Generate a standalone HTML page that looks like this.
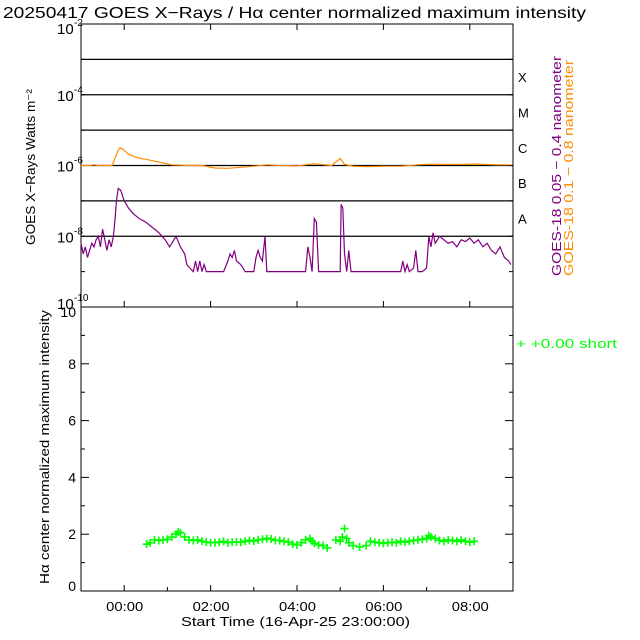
<!DOCTYPE html>
<html><head><meta charset="utf-8"><style>
body{margin:0;background:#fff;}
svg{display:block;font-family:"Liberation Sans",sans-serif;}
</style></head><body>
<svg id="chart" width="640" height="640" viewBox="0 0 640 640">
<rect width="640" height="640" fill="#fff"/>
<text x="3" y="18" font-size="16" textLength="583" lengthAdjust="spacingAndGlyphs">20250417 GOES X−Rays / Hα center normalized maximum intensity</text>
<g id="topPanel"></g>
<g id="botPanel"></g>
</svg>
<script>
const xrayLongT=[-1.0,-0.9,-0.8,-0.7,-0.6,-0.5,-0.4,-0.28,-0.15,-0.1,-0.05,0.1,0.3,0.6,0.9,1.1,1.5,1.8,2.1,2.4,2.7,3.0,3.3,3.6,4.0,4.4,4.8,5.0,5.1,5.3,5.6,6.0,6.4,6.8,7.1,7.4,7.8,8.2,8.6,8.95];
const xrayLongV=[-6.0,-6.0,-6.0,-5.98,-6.0,-5.99,-6.0,-6.0,-5.6,-5.5,-5.52,-5.68,-5.78,-5.85,-5.93,-5.98,-6.0,-6.0,-6.07,-6.08,-6.05,-6.02,-5.98,-6.0,-6.01,-5.95,-6.0,-5.8,-5.97,-6.02,-6.03,-6.02,-6.02,-5.98,-5.96,-5.97,-5.97,-5.96,-5.98,-5.98];
const xrayShortT=[-1.0,-0.95,-0.9,-0.85,-0.8,-0.75,-0.7,-0.65,-0.6,-0.55,-0.5,-0.45,-0.4,-0.35,-0.3,-0.25,-0.21,-0.18,-0.14,-0.08,0.0,0.1,0.2,0.35,0.5,0.65,0.8,0.95,1.05,1.2,1.3,1.4,1.45,1.6,1.65,1.7,1.75,1.8,1.85,1.9,2.0,2.3,2.4,2.45,2.5,2.55,2.6,2.7,2.8,3.0,3.05,3.1,3.15,3.2,3.26,3.3,3.5,4.2,4.25,4.3,4.35,4.4,4.45,4.5,4.6,5.0,5.02,5.06,5.1,5.15,5.2,5.25,5.3,6.0,6.4,6.45,6.5,6.55,6.6,6.7,6.75,6.8,6.9,7.0,7.05,7.1,7.15,7.2,7.3,7.4,7.5,7.6,7.7,7.8,7.9,8.0,8.1,8.2,8.3,8.4,8.5,8.6,8.7,8.8,8.9,8.95];
const xrayShortV=[-8.2,-8.5,-8.3,-8.6,-8.4,-8.2,-8.3,-8.1,-8.0,-8.3,-7.8,-8.1,-8.4,-8.1,-8.3,-8.0,-7.5,-7.0,-6.65,-6.7,-7.0,-7.2,-7.35,-7.5,-7.6,-7.75,-7.9,-8.1,-8.3,-8.0,-8.3,-8.5,-8.8,-9.0,-8.7,-9.0,-8.7,-9.0,-8.8,-9.0,-9.0,-9.0,-8.7,-8.5,-8.6,-8.4,-8.7,-8.8,-9.0,-9.0,-8.6,-8.4,-8.6,-8.7,-8.0,-9.0,-9.0,-9.0,-8.3,-8.6,-9.0,-7.5,-7.6,-9.0,-9.0,-9.0,-7.1,-7.2,-8.5,-9.0,-8.4,-9.0,-9.0,-9.0,-9.0,-8.7,-9.0,-8.8,-9.0,-8.9,-8.4,-9.0,-9.0,-8.9,-8.0,-8.3,-7.9,-8.2,-8.0,-8.1,-8.2,-8.15,-8.3,-8.1,-8.15,-8.05,-8.2,-8.1,-8.3,-8.2,-8.4,-8.5,-8.3,-8.6,-8.7,-8.8,-9.0];
const haT=[0.52,0.6,0.7,0.8,0.9,1.0,1.1,1.2,1.25,1.3,1.4,1.5,1.6,1.7,1.8,1.9,2.0,2.1,2.2,2.3,2.4,2.5,2.6,2.7,2.8,2.9,3.0,3.1,3.2,3.3,3.4,3.5,3.6,3.7,3.8,3.9,4.0,4.1,4.2,4.3,4.35,4.4,4.5,4.6,4.7,4.9,5.0,5.05,5.1,5.15,5.2,5.3,5.45,5.6,5.7,5.8,5.9,6.0,6.1,6.2,6.3,6.4,6.5,6.6,6.7,6.8,6.9,7.0,7.05,7.1,7.2,7.3,7.4,7.5,7.6,7.7,7.8,7.9,8.0,8.1];
const haV=[1.65,1.7,1.8,1.78,1.8,1.82,1.9,2.0,2.08,2.05,1.9,1.8,1.78,1.8,1.75,1.72,1.7,1.7,1.72,1.75,1.7,1.72,1.73,1.72,1.75,1.78,1.76,1.8,1.82,1.85,1.83,1.78,1.78,1.75,1.72,1.65,1.62,1.7,1.8,1.85,1.75,1.68,1.62,1.6,1.52,1.8,1.75,1.9,2.2,1.85,1.7,1.6,1.55,1.6,1.75,1.72,1.7,1.68,1.7,1.72,1.7,1.75,1.72,1.75,1.78,1.8,1.82,1.85,1.95,1.9,1.85,1.78,1.75,1.8,1.78,1.75,1.8,1.75,1.72,1.75];
const xTickLabels=["00:00","02:00","04:00","06:00","08:00"];
const yTopExps=["-2","-4","-6","-8","-10"];
const yBotLabels=["0","2","4","6","8","10"];
const classLabels=["X","M","C","B","A"];

const NS="http://www.w3.org/2000/svg";
const L=81,R=513,T0=24,T1=307,B1=591;
const X=h=>L+(h+1)*(R-L)/10;
const YL=v=>T0+(-2-v)*(T1-T0)/8;
const YB=v=>B1-v*(B1-T1)/10;
function mk(p,tag,a){const e=document.createElementNS(NS,tag);for(const k in a)e.setAttribute(k,a[k]);p.appendChild(e);return e;}
const topG=document.getElementById('topPanel'),botG=document.getElementById('botPanel');

for(let d=-3;d>=-8;d--){const ln=mk(topG,'line',{x1:L,x2:R,y1:YL(d),y2:YL(d),stroke:'#000','stroke-width':1.3});

}
for(let i=0;i<classLabels.length;i++){const t=mk(topG,'text',{x:518,y:(YL(-3-i)+YL(-4-i))/2+5,'font-size':13});t.textContent=classLabels[i];

}
mk(topG,'rect',{x:L,y:T0,width:R-L,height:T1-T0,fill:'none',stroke:'#000'});
mk(botG,'rect',{x:L,y:T1,width:R-L,height:B1-T1,fill:'none',stroke:'#000'});
for(let h=0;h<=8;h++){const x=X(h);const big=h%2==0;
if(big){mk(topG,'line',{x1:x,x2:x,y1:T0,y2:T0+6,stroke:'#000'});
mk(topG,'line',{x1:x,x2:x,y1:T1,y2:T1-6,stroke:'#000'});}
mk(botG,'line',{x1:x,x2:x,y1:B1,y2:B1-(big?6:4),stroke:'#000'});}
for(let i=0;i<xTickLabels.length;i++){const t=mk(botG,'text',{x:X(i*2)-18,y:611,'font-size':13,textLength:37,lengthAdjust:'spacingAndGlyphs'});t.textContent=xTickLabels[i];

}
const xt=mk(botG,'text',{x:181,y:626,'font-size':13,textLength:229,lengthAdjust:'spacingAndGlyphs'});xt.textContent="Start Time (16-Apr-25 23:00:00)";


for(let i=0;i<yTopExps.length;i++){const y=YL(-2-2*i);const yy=y+(i==0?10:i==4?2:6);
const t=mk(topG,'text',{x:57,y:yy,'font-size':15});t.textContent="10";


const s=mk(topG,'text',{x:74,y:yy-8,'font-size':10});s.textContent=yTopExps[i];

}
for(let d=-3;d>=-9;d--){mk(topG,'line',{x1:L,x2:L+4,y1:YL(d),y2:YL(d),stroke:'#000'});mk(topG,'line',{x1:R,x2:R-4,y1:YL(d),y2:YL(d),stroke:'#000'});}
const yt=mk(topG,'text',{transform:'translate(35,245) rotate(-90)','font-size':13,textLength:156,lengthAdjust:'spacingAndGlyphs'});yt.textContent="GOES X−Rays Watts m⁻²";


for(let v=0;v<=10;v++){const y=YB(v),l=v%2==0?8:4;mk(botG,'line',{x1:L,x2:L+l,y1:y,y2:y,stroke:'#000'});mk(botG,'line',{x1:R,x2:R-l,y1:y,y2:y,stroke:'#000'});}
for(let i=0;i<yBotLabels.length;i++){const t=mk(botG,'text',{x:76,y:YB(i*2)+(i==5?10:i==0?0:5),'font-size':14,'text-anchor':'end'});t.textContent=yBotLabels[i];

}
const yb=mk(botG,'text',{transform:'translate(49,584) rotate(-90)','font-size':13,textLength:274,lengthAdjust:'spacingAndGlyphs'});yb.textContent="Hα center normalized maximum intensity";


function line(p,ts,vs,col,name){const d=ts.map((t,i)=>(i?'L':'M')+X(t).toFixed(1)+','+YL(vs[i]).toFixed(1)).join('');const e=mk(p,'path',{d:d,fill:'none',stroke:col,'stroke-width':1.2});

}
line(topG,xrayLongT,xrayLongV,'#ff8c00','goes-long-series');
line(topG,xrayShortT,xrayShortV,'#800080','goes-short-series');
for(let i=0;i<haT.length;i++){const x=X(haT[i]),y=YB(haV[i]);const p=mk(botG,'path',{d:`M${x-4},${y}h8M${x},${y-4}v8`,stroke:'#00ff00','stroke-width':1.6,fill:'none'});

}
const l1=mk(topG,'text',{transform:'translate(561,276) rotate(-90)','font-size':13,fill:'#800080',textLength:220,lengthAdjust:'spacingAndGlyphs'});l1.textContent="GOES-18 0.05 − 0.4 nanometer";


const l2=mk(topG,'text',{transform:'translate(573,276) rotate(-90)','font-size':13,fill:'#ff8c00',textLength:216,lengthAdjust:'spacingAndGlyphs'});l2.textContent="GOES-18 0.1 − 0.8 nanometer";


const l3=mk(botG,'text',{x:516,y:348,'font-size':13,fill:'#00ff00',textLength:101,lengthAdjust:'spacingAndGlyphs'});l3.textContent="+  +0.00 short";


</script>
</body></html>
